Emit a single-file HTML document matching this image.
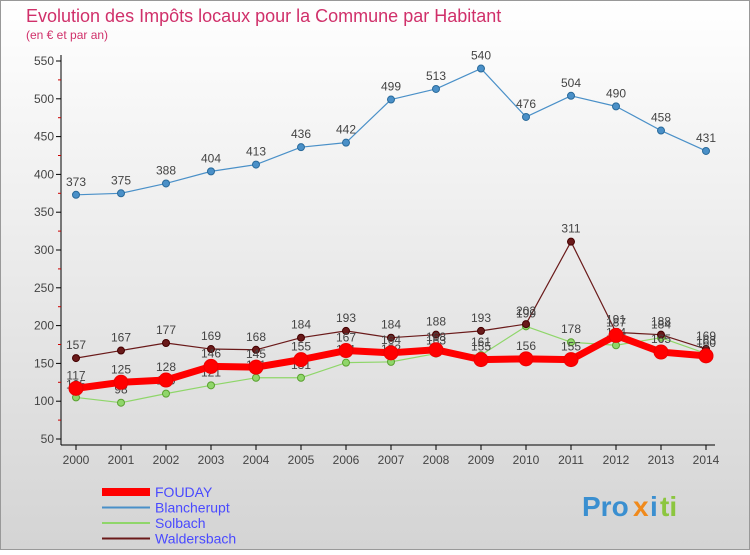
<!DOCTYPE html>
<html><head><meta charset="utf-8"><style>
body{margin:0;width:750px;height:550px;overflow:hidden;font-family:"Liberation Sans",sans-serif}
</style></head><body>
<svg width="750" height="550" xmlns="http://www.w3.org/2000/svg" font-family="Liberation Sans, sans-serif">
<defs><linearGradient id="bg" x1="0" y1="0" x2="0" y2="1"><stop offset="0" stop-color="#ffffff"/><stop offset="1" stop-color="#d4d4d4"/></linearGradient></defs>
<rect x="0.5" y="0.5" width="749" height="549" fill="url(#bg)" stroke="#999"/>
<text x="26" y="22" font-size="18" fill="#d0306a">Evolution des Impôts locaux pour la Commune par Habitant</text>
<text x="26" y="39" font-size="12" fill="#d0306a">(en € et par an)</text>
<g id="axes"></g><g id="series"></g><g id="legend"></g>
<g font-size="28" font-weight="bold">
<text x="582" y="516" fill="#3a8fd0">Pro</text><text x="633" y="516" fill="#f08a1c">x</text><text x="650" y="516" fill="#3a8fd0">i</text><text x="660" y="516" fill="#8cc63f">ti</text>
</g>
</svg>
<script>
const years=["2000","2001","2002","2003","2004","2005","2006","2007","2008","2009","2010","2011","2012","2013","2014"];
const yTicks=[50,100,150,200,250,300,350,400,450,500,550];
const fouday=[117,125,128,146,145,155,167,164,168,155,156,155,187,165,160];
const blancherupt=[373,375,388,404,413,436,442,499,513,540,476,504,490,458,431];
const solbach=[105,98,110,121,131,131,151,152,163,161,199,178,174,184,163];
const waldersbach=[157,167,177,169,168,184,193,184,188,193,202,311,191,188,169];
const NS="http://www.w3.org/2000/svg";
const X=i=>76+i*45, Y=v=>439-(v-50)*0.756;
function mk(t,a,p){const e=document.createElementNS(NS,t);for(const k in a)e.setAttribute(k,a[k]);p.appendChild(e);return e;}
const ax=document.getElementById('axes');
const yl=mk('line',{x1:61,y1:55,x2:61,y2:445,stroke:'#000'},ax);

const xl=mk('line',{x1:61,y1:445,x2:715,y2:445,stroke:'#000'},ax);

yTicks.forEach(v=>{mk('line',{x1:56,y1:Y(v),x2:61,y2:Y(v),stroke:'#000'},ax);
 if(v<550)mk('line',{x1:58,y1:Y(v+25),x2:61,y2:Y(v+25),stroke:'#c00'},ax);
 const t=mk('text',{x:54,y:Y(v)+4,'font-size':12,'text-anchor':'end',fill:'#444'},ax);t.textContent=v;
 });
years.forEach((y,i)=>{mk('line',{x1:X(i),y1:445,x2:X(i),y2:450,stroke:'#000'},ax);
 const t=mk('text',{x:X(i),y:464,'font-size':12,'text-anchor':'middle',fill:'#444'},ax);t.textContent=y;
 });
const sg=document.getElementById('series');
function draw(name,data,col,w,r,stroke){
 const g=mk('g',{},sg);
 mk('polyline',{points:data.map((v,i)=>X(i)+','+Y(v)).join(' '),fill:'none',stroke:col,'stroke-width':w,'stroke-linejoin':'round'},g);
 data.forEach((v,i)=>{const c=mk('circle',{cx:X(i),cy:Y(v),r:r,fill:col,stroke:stroke,'stroke-width':1},g);
  
  const t=mk('text',{x:X(i),y:Y(v)-9,'font-size':12,'text-anchor':'middle',fill:'#444'},g);t.textContent=v;
  });
}
draw('blancherupt',blancherupt,'#4a90c8',1.2,3.5,'#2a6a9a');
draw('solbach',solbach,'#8fd66a',1.2,3.5,'#5aa030');
draw('waldersbach',waldersbach,'#6a1a1a',1.2,3.5,'#400');
draw('fouday',fouday,'#ff0000',7,7,'#e00');
const lg=document.getElementById('legend');
[['FOUDAY','#ff0000',8],['Blancherupt','#4a90c8',2],['Solbach','#8fd66a',2],['Waldersbach','#6a1a1a',2]].forEach((d,i)=>{
 const y=492+i*15.5;const g=mk('g',{},lg);
 
 mk('line',{x1:102,y1:y,x2:150,y2:y,stroke:d[1],'stroke-width':d[2]},g);
 const t=mk('text',{x:155,y:y+5,'font-size':14,fill:'#4a4aff'},g);t.textContent=d[0];});
</script>
</body></html>
